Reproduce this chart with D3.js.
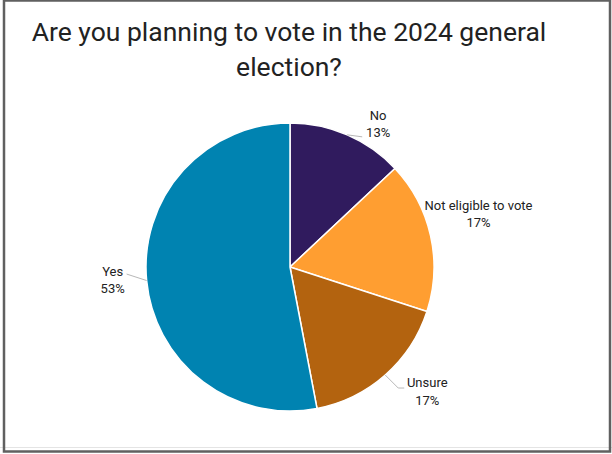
<!DOCTYPE html>
<html>
<head>
<meta charset="utf-8">
<script src="https://cdn.jsdelivr.net/npm/d3@7"></script>
<style>
  html, body { margin: 0; padding: 0; background: #fff; }
  svg { display: block; }
  text { font-family: Roboto, "Noto Sans", sans-serif; fill: #222; }
</style>
</head>
<body>
<script>
// Survey responses, in drawing order (clockwise from 12 o'clock)
const categories = ["No", "Not eligible to vote", "Unsure", "Yes"];
const shares = [13, 17, 17, 53];
const colors = ["#301b5e", "#ff9e31", "#b3630f", "#0083b1"];
const titleLines = ["Are you planning to vote in the 2024 general", "election?"];

const W = 612, H = 454;
const cx = 290, cy = 267, R = 144;

// Label placement relative to the slice edge at its mid-angle:
// leader polyline offsets and text block (centre x, two baselines).
const labelLayout = {
  "No":                   { leader: [[15, 2]],            tx: 31,  ty: [-15, 2] },
  "Not eligible to vote": { leader: [],                   tx: 48,  ty: [-26, -9] },
  "Unsure":               { leader: [[13, 13], [19, 13]], tx: 42,  ty: [12, 30] },
  "Yes":                  { leader: [[-20, -6.5]],        tx: -34, ty: [-4.5, 12.5] }
};

const svg = d3.select("body").append("svg")
  .attr("width", W).attr("height", H);

svg.append("rect").attr("width", W).attr("height", H).attr("fill", "#fff");

// Frame
svg.append("line").attr("x1", 0).attr("x2", W).attr("y1", 447.5).attr("y2", 447.5)
  .attr("stroke", "#e4e4e4").attr("stroke-width", 1);
svg.append("rect")
  .attr("x", 4).attr("y", 0.5).attr("width", 606).attr("height", 451)
  .attr("fill", "none").attr("stroke", "#606060").attr("stroke-width", 2.5);

// Title
svg.append("text")
  .attr("x", 289).attr("text-anchor", "middle")
  .style("font-size", "26.5px")
  .selectAll("tspan").data(titleLines).join("tspan")
  .attr("x", 289).attr("y", (d, i) => 41 + i * 35)
  .text(d => d);

const data = categories.map((c, i) => ({ name: c, value: shares[i], color: colors[i] }));

const pie = d3.pie().value(d => d.value).sort(null);
const arcs = pie(data);
const arc = d3.arc().innerRadius(0).outerRadius(R);

const g = svg.append("g").attr("transform", `translate(${cx},${cy})`);

g.selectAll("path.slice").data(arcs).join("path")
  .attr("class", "slice")
  .attr("d", arc)
  .attr("fill", d => d.data.color)
  .attr("stroke", "#fff")
  .attr("stroke-width", 1.5)
  .attr("stroke-linejoin", "round");

// Edge point of each slice at its mid-angle
function edgePoint(d) {
  const a = (d.startAngle + d.endAngle) / 2;
  return [R * Math.sin(a), -R * Math.cos(a)];
}

const labels = g.selectAll("g.label").data(arcs).join("g").attr("class", "label");

labels.each(function (d) {
  const L = labelLayout[d.data.name];
  const [ex, ey] = edgePoint(d);
  const sel = d3.select(this);
  if (L.leader.length) {
    const pts = [[ex, ey]].concat(L.leader.map(([dx, dy]) => [ex + dx, ey + dy]));
    sel.append("path")
      .attr("d", d3.line()(pts))
      .attr("fill", "none")
      .attr("stroke", "#b8b8b8")
      .attr("stroke-width", 1);
  }
  const t = sel.append("text")
    .attr("text-anchor", "middle")
    .style("font-size", "13px");
  t.append("tspan").attr("x", ex + L.tx).attr("y", ey + L.ty[0]).text(d.data.name);
  t.append("tspan").attr("x", ex + L.tx).attr("y", ey + L.ty[1]).text(d.data.value + "%");
});
</script>
</body>
</html>
